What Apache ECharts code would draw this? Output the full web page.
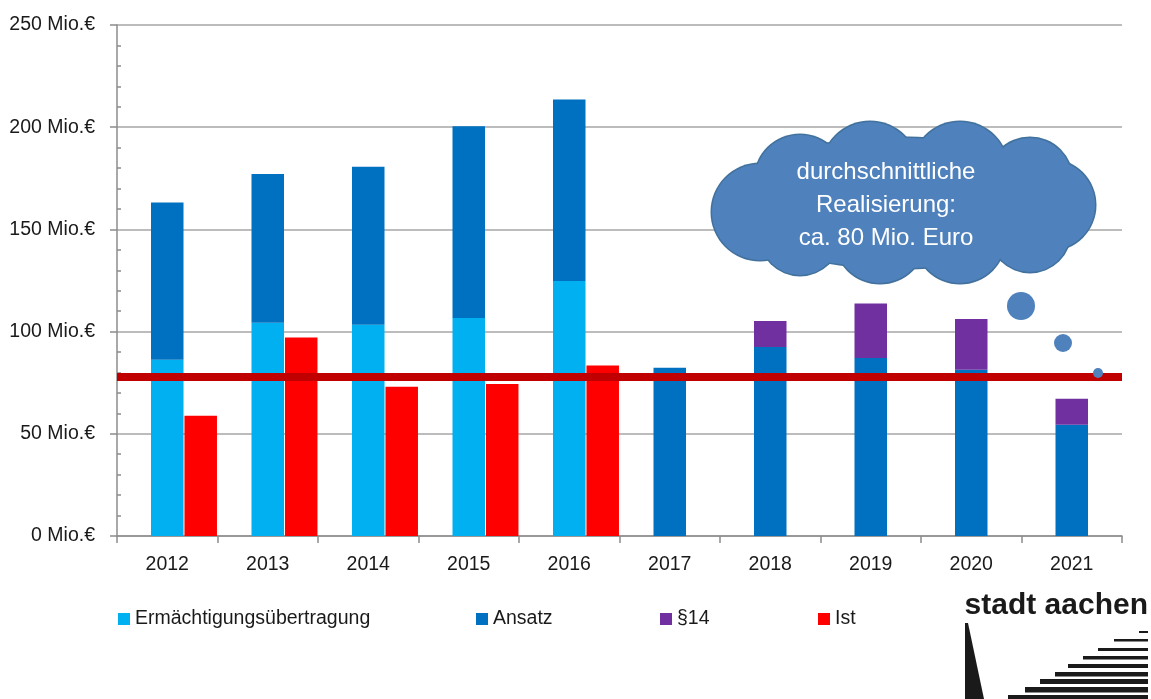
<!DOCTYPE html>
<html>
<head>
<meta charset="utf-8">
<script src="https://cdn.jsdelivr.net/npm/echarts@6/dist/echarts.min.js"></script>
<style>
    html, body { margin: 0; padding: 0; background: #fff; }
    #main { width: 1151px; height: 699px; }
</style>
</head>
<body>
<div id="main"></div>
<script>
// data (Mio. Euro)
var years = ['2012', '2013', '2014', '2015', '2016', '2017', '2018', '2019', '2020', '2021'];
var ermaechtigung = [86.2, 104.3, 103.3, 106.7, 124.8, null, null, null, null, null];
var ansatz = [77.0, 72.8, 77.3, 93.8, 88.8, 82.3, 92.5, 87.1, 81.3, 54.4];
var para14 = [null, null, null, null, null, null, 12.7, 26.7, 24.9, 12.7];
var ist = [58.8, 97.1, 73.0, 74.4, 83.4, null, null, null, null, null];
var avgLine = 77.9;
var yTicks = [0, 50, 100, 150, 200, 250];

var legendNames = ['Ermächtigungsübertragung', 'Ansatz', '§14', 'Ist'];
var cloudLines = ['durchschnittliche', 'Realisierung:', 'ca. 80 Mio. Euro'];

var font = "'Liberation Sans Narrow', 'Arial Narrow', 'Liberation Sans', Arial, sans-serif";
var axisGray = '#8c8c8c';
var textColor = '#1a1a1a';

// cloud made of overlapping circles: a darker layer a bit bigger, then the fill on top
function cloud() {
    var lobes = [
        [760, 212, 48], [800, 180, 45], [870, 170, 48], [960, 170, 48], [1030, 180, 42],
        [1050, 205, 45], [1030, 232, 40], [960, 238, 45], [880, 238, 45], [800, 235, 40]
    ];
    var out = [];
    [['#41719c', 1.5], ['#4f81bd', 0]].forEach(function (layer) {
        out.push({
            type: 'ellipse', z: 10, silent: true,
            shape: {cx: 900, cy: 203, rx: 175 + layer[1], ry: 65 + layer[1]},
            style: {fill: layer[0]}
        });
        lobes.forEach(function (l) {
            out.push({
                type: 'circle', z: 10, silent: true,
                shape: {cx: l[0], cy: l[1], r: l[2] + layer[1]},
                style: {fill: layer[0]}
            });
        });
    });
    cloudLines.forEach(function (t, i) {
        out.push({
            type: 'text', z: 11, silent: true,
            style: {
                text: t, x: 886, y: 172 + i * 33, align: 'center', verticalAlign: 'middle',
                fill: '#ffffff', font: '24px ' + font
            }
        });
    });
    // thought bubbles
    [[1021, 306, 14], [1063, 343, 9], [1098, 373, 5]].forEach(function (c) {
        out.push({
            type: 'circle', z: 10, silent: true,
            shape: {cx: c[0], cy: c[1], r: c[2]},
            style: {fill: '#4f81bd'}
        });
    });
    return out;
}

// stadt aachen logo
function logo() {
    var out = [{
        type: 'text', z: 10, silent: true,
        style: {
            text: 'stadt aachen', x: 1148, y: 606, align: 'right', verticalAlign: 'middle',
            fill: textColor, font: 'bold 30px ' + font
        }
    }, {
        type: 'polygon', z: 10, silent: true,
        shape: {points: [[965, 623], [968, 623], [984, 699], [965, 699]]},
        style: {fill: textColor}
    }];
    var stripes = [[631, 1139, 2], [639, 1114, 2.5], [648, 1098, 3], [656, 1083, 3.5], [664, 1068, 4],
        [672, 1055, 4.5], [679, 1040, 5], [687, 1025, 5.5], [695, 1008, 6]];
    stripes.forEach(function (s) {
        out.push({
            type: 'rect', z: 10, silent: true,
            shape: {x: s[1], y: s[0], width: 1148 - s[1], height: s[2]},
            style: {fill: textColor}
        });
    });
    return out;
}

var legendLeft = [113, 471, 655, 813];
var legends = legendNames.map(function (n, i) {
    return {
        data: [n], left: legendLeft[i], top: 604, icon: 'rect', itemWidth: 12, itemHeight: 12,
        selectedMode: false,
        textStyle: {fontSize: 19.5, fontFamily: font, color: textColor}
    };
});

var chart = echarts.init(document.getElementById('main'));

var option = {
    animation: false,
    backgroundColor: '#fff',
    grid: {left: 117, right: 29, top: 25, bottom: 163},
    legend: legends,
    xAxis: {
        type: 'category',
        data: years,
        axisLine: {lineStyle: {color: axisGray, width: 1.5}},
        axisTick: {show: true, length: 7, lineStyle: {color: axisGray, width: 1.5}},
        axisLabel: {fontSize: 19.5, fontFamily: font, color: textColor, margin: 19}
    },
    yAxis: [{
        type: 'value', min: yTicks[0], max: yTicks[yTicks.length - 1], interval: 50,
        axisLine: {show: true, lineStyle: {color: axisGray, width: 1.5}},
        axisTick: {show: true, length: 7, lineStyle: {color: axisGray, width: 1.5}},
        axisLabel: {formatter: '{value} Mio.€', fontSize: 19.5, fontFamily: font, color: textColor, margin: 22},
        splitLine: {lineStyle: {color: '#a6a6a6', width: 1.5}}
    }, {
        // only for the small inside ticks
        type: 'value', min: yTicks[0], max: yTicks[yTicks.length - 1], interval: 50, position: 'left',
        axisLine: {show: false},
        axisTick: {show: false, inside: true},
        minorTick: {show: true, splitNumber: 5, length: 4, lineStyle: {color: axisGray, width: 1.5}},
        axisLabel: {show: false},
        splitLine: {show: false}
    }],
    series: [
        {
            // empty slot so the stacked bar sits centred on the year
            name: 'leer', type: 'bar', barWidth: 32.5, barGap: '3%',
            data: years.map(function () { return null; })
        },
        {
            name: 'Ermächtigungsübertragung', type: 'bar', stack: 'a', barWidth: 32.5, barGap: '3%',
            itemStyle: {color: '#00b0f0'}, data: ermaechtigung
        },
        {
            name: 'Ansatz', type: 'bar', stack: 'a', barWidth: 32.5, barGap: '3%',
            itemStyle: {color: '#0070c0'}, data: ansatz
        },
        {
            name: '§14', type: 'bar', stack: 'a', barWidth: 32.5, barGap: '3%',
            itemStyle: {color: '#7030a0'}, data: para14
        },
        {
            name: 'Ist', type: 'bar', barWidth: 32.5, barGap: '3%',
            itemStyle: {color: '#ff0000'}, data: ist,
            markLine: {
                silent: true, symbol: 'none', label: {show: false},
                lineStyle: {color: '#c00000', width: 8, type: 'solid'},
                data: [{yAxis: avgLine}]
            }
        }
    ],
    graphic: cloud().concat(logo())
};

chart.setOption(option);
</script>
</body>
</html>
